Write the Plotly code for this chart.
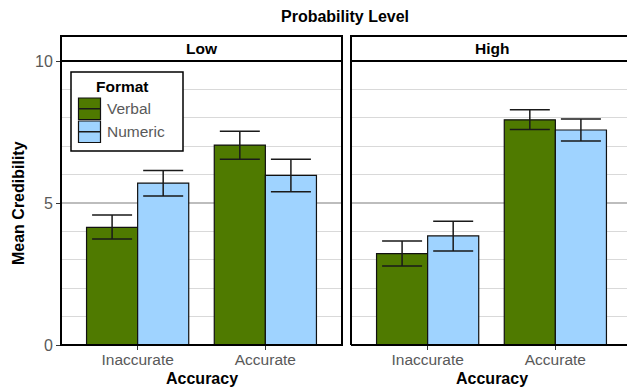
import plotly.graph_objects as go

# ---- data ----
categories = ["Inaccurate", "Accurate"]
panels = ["Low", "High"]
formats = ["Verbal", "Numeric"]

low_verbal = [4.14, 7.04]
low_verbal_hi = [4.58, 7.53]
low_verbal_lo = [3.73, 6.54]

low_numeric = [5.70, 5.97]
low_numeric_hi = [6.14, 6.54]
low_numeric_lo = [5.25, 5.40]

high_verbal = [3.22, 7.93]
high_verbal_hi = [3.66, 8.28]
high_verbal_lo = [2.78, 7.59]

high_numeric = [3.84, 7.57]
high_numeric_hi = [4.36, 7.96]
high_numeric_lo = [3.31, 7.18]

y_ticks = [0, 5, 10]

# ---- style ----
GREEN = "#4F7A00"
BLUE = "#9FD3FF"
FONT = "Liberation Sans, Arial, sans-serif"
TICKCOL = "#595959"

W, H = 627, 390
ML, MR, MT, MB = 61, 0, 61, 45
PW = W - ML - MR
PH = H - MT - MB
left_px = (61, 342)
right_px = (351, 627)
dom1 = [(left_px[0] - ML) / PW, (left_px[1] - ML) / PW]
dom2 = [(right_px[0] - ML) / PW, 1.0]
unit_px = (left_px[1] - left_px[0]) / 2.2
r2_max = -0.6 + (right_px[1] - right_px[0]) / unit_px


def py(px):
    return (MT + PH - px) / PH


def lx(px):
    return (px - ML) / PW


def err(mean, hi, lo):
    return dict(type="data", symmetric=False,
                array=[h - m for h, m in zip(hi, mean)],
                arrayminus=[m - l for m, l in zip(mean, lo)],
                color="#1a1a1a", thickness=1.5, width=20)


fig = go.Figure()
series = [
    ("x", "y", formats[0], low_verbal, low_verbal_hi, low_verbal_lo, GREEN),
    ("x", "y", formats[1], low_numeric, low_numeric_hi, low_numeric_lo, BLUE),
    ("x2", "y2", formats[0], high_verbal, high_verbal_hi, high_verbal_lo, GREEN),
    ("x2", "y2", formats[1], high_numeric, high_numeric_hi, high_numeric_lo, BLUE),
]
for xa, ya, name, m, hi, lo, col in series:
    fig.add_trace(go.Bar(
        x=categories, y=m, name=name, xaxis=xa, yaxis=ya,
        marker=dict(color=col, line=dict(color="#111111", width=1.2)),
        error_y=err(m, hi, lo), showlegend=False, hoverinfo="skip",
    ))

axis_common = dict(
    type="category", categoryorder="array", categoryarray=categories,
    showgrid=False, zeroline=False, showline=False,
    ticks="outside", ticklen=4, tickwidth=1, tickcolor="#333333",
    ticklabelstandoff=-4,
    tickfont=dict(family=FONT, size=15.5, color=TICKCOL),
)
grid_common = dict(
    range=[0, 10], tickvals=y_ticks, zeroline=False, showline=False,
    showgrid=True, gridcolor="#bdbdbd", gridwidth=2,
    minor=dict(dtick=1, showgrid=True, gridcolor="#d9d9d9", gridwidth=1.3),
)

fig.update_layout(
    width=W, height=H,
    margin=dict(l=ML, r=MR, t=MT, b=MB, pad=0),
    paper_bgcolor="white", plot_bgcolor="white",
    barmode="group", bargap=0.2, bargroupgap=0,
    showlegend=False,
    font=dict(family=FONT),
    xaxis=dict(domain=dom1, range=[-0.6, 1.6], anchor="y", **axis_common),
    xaxis2=dict(domain=dom2, range=[-0.6, r2_max], anchor="y2", **axis_common),
    yaxis=dict(anchor="x", ticks="outside", ticklen=4, tickwidth=1, tickcolor="#333333",
               tickfont=dict(family=FONT, size=16, color=TICKCOL), **grid_common),
    yaxis2=dict(anchor="x2", matches="y", showticklabels=False, ticks="", **grid_common),
)

shapes = []
annotations = []
BL = dict(color="black", width=2)
# left panel frame
shapes.append(dict(type="rect", xref="x domain", yref="y domain",
                   x0=0, x1=1, y0=0, y1=1, line=BL, layer="above"))
# right panel frame (right edge clipped by the canvas)
for (x0, y0, x1, y1) in [(0, 0, 0, 1), (0, 0, 1, 0), (0, 1, 1, 1)]:
    shapes.append(dict(type="line", xref="x2 domain", yref="y2 domain",
                       x0=x0, x1=x1, y0=y0, y1=y1, line=BL, layer="above"))
# strips
strip_y0, strip_y1 = py(61), py(36)
shapes.append(dict(type="rect", xref="paper", yref="paper",
                   x0=dom1[0], x1=dom1[1], y0=strip_y0, y1=strip_y1,
                   line=BL, fillcolor="white", layer="above"))
shapes.append(dict(type="path", xref="paper", yref="paper",
                   path=f"M {dom2[1] + 0.01} {strip_y1} L {dom2[0]} {strip_y1} L {dom2[0]} {strip_y0} L {dom2[1] + 0.01} {strip_y0}",
                   line=BL, layer="above"))
centers = [(dom1[0] + dom1[1]) / 2, (dom2[0] + lx(right_px[0] + 281)) / 2]
for cx, lab in zip(centers, panels):
    annotations.append(dict(text=f"<b>{lab}</b>", x=cx, y=py(48.5), xref="paper", yref="paper",
                            xanchor="center", yanchor="middle", showarrow=False,
                            font=dict(family=FONT, size=15.5, color="black")))
    annotations.append(dict(text="<b>Accuracy</b>", x=cx, y=py(378), xref="paper", yref="paper",
                            xanchor="center", yanchor="middle", showarrow=False,
                            font=dict(family=FONT, size=16, color="black")))

# title
annotations.append(dict(text="<b>Probability Level</b>", x=lx(345), y=py(17),
                        xref="paper", yref="paper", xanchor="center", yanchor="middle",
                        showarrow=False, font=dict(family=FONT, size=16, color="black")))
# y title
annotations.append(dict(text="<b>Mean Credibility</b>", x=lx(18), y=py(203),
                        xref="paper", yref="paper", xanchor="center", yanchor="middle",
                        textangle=-90, showarrow=False,
                        font=dict(family=FONT, size=16, color="black")))

# custom legend
shapes.append(dict(type="rect", xref="paper", yref="paper",
                   x0=lx(71), x1=lx(183), y0=py(151), y1=py(72),
                   line=dict(color="black", width=1.5), fillcolor="white", layer="above"))
annotations.append(dict(text="<b>Format</b>", x=lx(122), y=py(86), xref="paper", yref="paper",
                        xanchor="center", yanchor="middle", showarrow=False,
                        font=dict(family=FONT, size=15.5, color="black")))
for (top, bot, lab, col) in [(98, 119.5, formats[0], GREEN), (121, 142.5, formats[1], BLUE)]:
    shapes.append(dict(type="rect", xref="paper", yref="paper",
                       x0=lx(78.5), x1=lx(100.5), y0=py(bot), y1=py(top),
                       line=dict(color="#111111", width=1.2), fillcolor=col, layer="above"))
    mid = (top + bot) / 2
    shapes.append(dict(type="line", xref="paper", yref="paper",
                       x0=lx(78.5), x1=lx(100.5), y0=py(mid), y1=py(mid),
                       line=dict(color="#1a1a1a", width=1.5), layer="above"))
    annotations.append(dict(text=lab, x=lx(104.5), y=py(mid), xref="paper", yref="paper",
                            xanchor="left", yanchor="middle", showarrow=False,
                            font=dict(family=FONT, size=15.5, color=TICKCOL)))

fig.update_layout(shapes=shapes, annotations=annotations)
fig.write_html("out.html", config={"displayModeBar": False},
               post_script="document.body.style.margin='0';document.body.style.padding='0';")
